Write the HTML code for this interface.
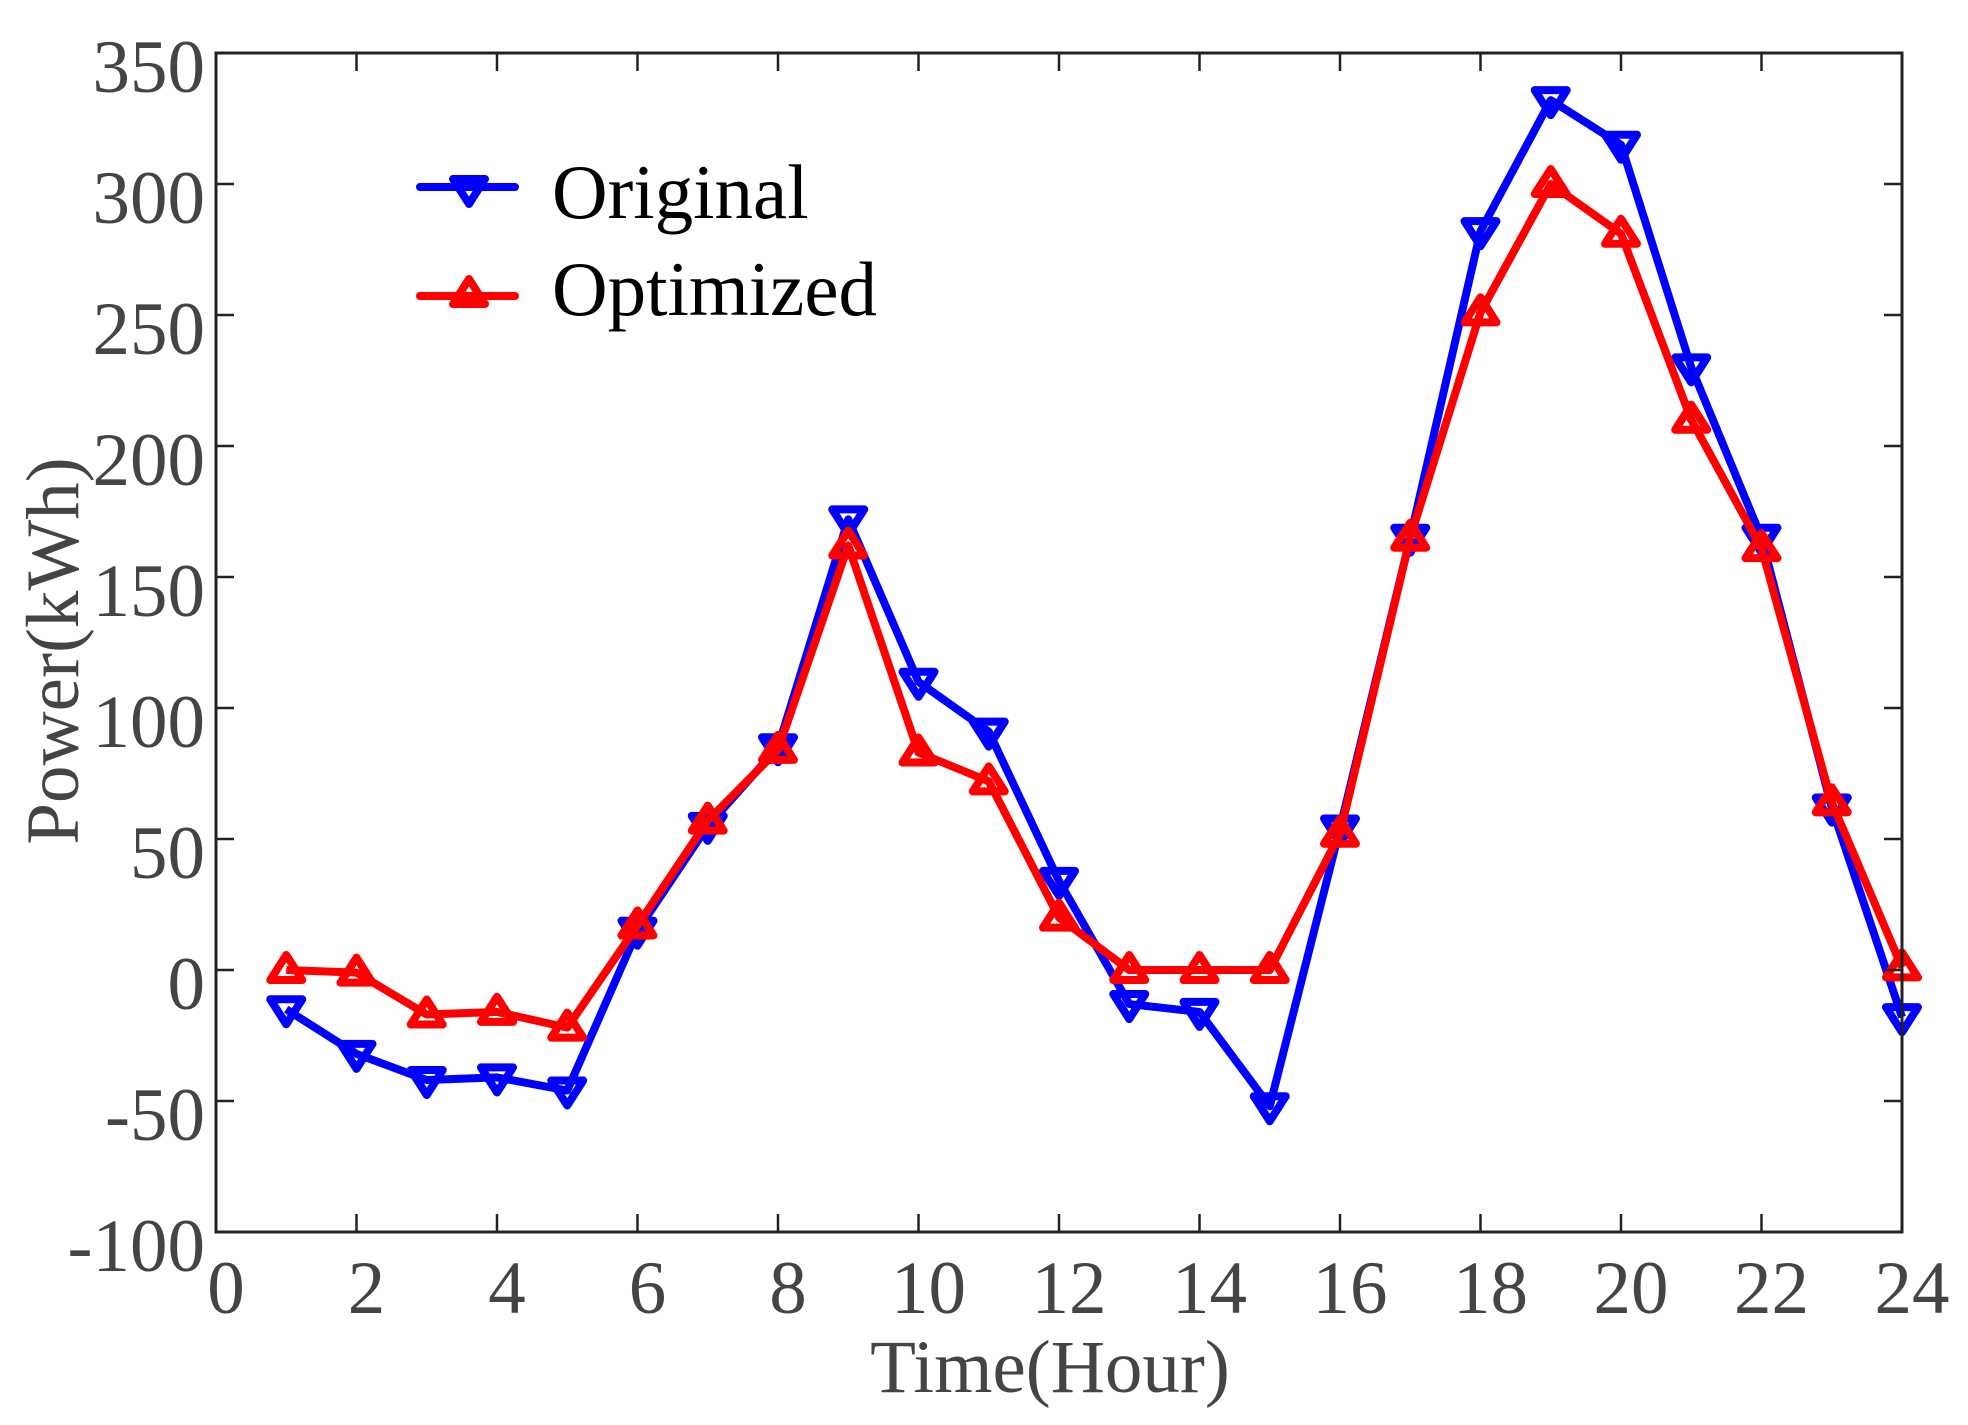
<!DOCTYPE html>
<html><head><meta charset="utf-8"><style>
html,body{margin:0;padding:0;background:#fff;}
svg{display:block;}
</style></head><body>
<svg width="1968" height="1425" viewBox="0 0 1968 1425" xmlns="http://www.w3.org/2000/svg" font-family="'Liberation Serif', serif">
<rect width="1968" height="1425" fill="#fff"/>
<g id="plot"></g>
<rect x="216" y="53" width="1686" height="1179" fill="none" stroke="#222" stroke-width="3"/>
<g id="ticks" stroke="#222" stroke-width="2.5"></g>
<g id="labels" fill="#444" font-size="75"></g>
<text x="1050" y="1392" font-size="75" fill="#444" text-anchor="middle">Time(Hour)</text>
<text transform="translate(78,651) rotate(-90)" font-size="75" fill="#444" text-anchor="middle">Power(kWh)</text>
<g id="legend">
<line x1="420" y1="187" x2="515" y2="187" stroke="#0000ff" stroke-width="8" stroke-linecap="round"/>
<polygon points="453,179 485,179 469,204" fill="none" stroke="#0000ff" stroke-width="8" stroke-linejoin="round"/>
<line x1="420" y1="296" x2="515" y2="296" stroke="#ff0000" stroke-width="8" stroke-linecap="round"/>
<polygon points="453,304 485,304 469,279" fill="none" stroke="#ff0000" stroke-width="8" stroke-linejoin="round"/>
<text x="552" y="218" font-size="77" fill="#000">Original</text>
<text x="552" y="315" font-size="77" fill="#000">Optimized</text>
</g>
</svg>
<script>
const X=h=>216+h*70.25, Y=v=>53+(350-v)*2.62;
const orig=[-15,-32,-42,-41,-46,15,55,85,172,110,91,34,-13,-16,-52,54,165,282,332,315,230,165,62,-18];
const opt=[0,-1,-17,-16,-22,17,57,84,162,83,72,20,0,0,0,52,165,251,300,281,210,161,64,1];
const ns="http://www.w3.org/2000/svg";
function el(t,a,p){const e=document.createElementNS(ns,t);for(const k in a)e.setAttribute(k,a[k]);p.appendChild(e);return e;}
const plot=document.getElementById('plot');
function series(d,c,down){
  el('polyline',{points:d.map((v,i)=>X(i+1)+','+Y(v)).join(' '),fill:'none',stroke:c,'stroke-width':8,'stroke-linejoin':'round'},plot);
  d.forEach((v,i)=>{const x=X(i+1),y=Y(v);
    const pts=down?[[x-16,y-10],[x+16,y-10],[x,y+15]]:[[x-16,y+10],[x+16,y+10],[x,y-15]];
    el('polygon',{points:pts.map(p=>p.join(',')).join(' '),fill:'none',stroke:c,'stroke-width':8,'stroke-linejoin':'round'},plot);});
}
series(orig,'#0000ff',true);
series(opt,'#ff0000',false);
const tk=document.getElementById('ticks'),lb=document.getElementById('labels');
for(let h=0;h<=24;h+=2){const x=X(h);
  el('line',{x1:x,y1:1232,x2:x,y2:1214},tk);el('line',{x1:x,y1:53,x2:x,y2:71},tk);
  const t=el('text',{x:x+10,y:1313,'text-anchor':'middle'},lb);t.textContent=h;}
for(let v=-100;v<=350;v+=50){const y=Y(v);
  el('line',{x1:216,y1:y,x2:234,y2:y},tk);el('line',{x1:1902,y1:y,x2:1884,y2:y},tk);
  const t=el('text',{x:205,y:y+39,'text-anchor':'end'},lb);t.textContent=v;}
</script>
</body></html>
